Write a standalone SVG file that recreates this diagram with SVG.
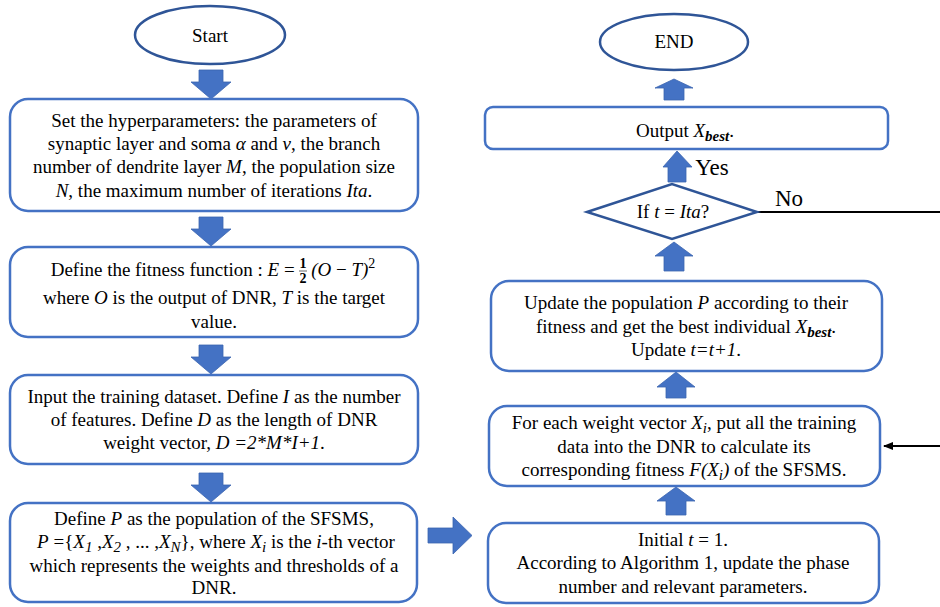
<svg xmlns="http://www.w3.org/2000/svg" width="940" height="607" viewBox="0 0 940 607">
<style>
.box{fill:#fff;stroke:#4472C4;stroke-width:2.5}
.term{fill:#fff;stroke:#2F5597;stroke-width:2.5}
.blk{fill:#4472C4;stroke:#3B65B0;stroke-width:0.8}
.line{fill:none;stroke:#000;stroke-width:2}
text{font-family:"Liberation Serif","Times New Roman",serif;font-size:19px;fill:#000;text-anchor:middle}
.i{font-style:italic}
.sb{font-style:italic;font-weight:bold;font-size:15px}
.s{font-style:italic;font-size:15px}
.lbl{font-size:23px}
</style>
<defs>
<marker id="ah" markerWidth="10" markerHeight="8" refX="9" refY="4" orient="auto" markerUnits="userSpaceOnUse">
<path d="M0,0 L10,4 L0,8 Z" fill="#000"/>
</marker>
</defs>

<g id="connectors">
<path class="blk" d="M199,70 H223 V82 H231 L211,99 L191,82 H199 Z"/>
<path class="blk" d="M199,217 H223 V229 H231 L211,246 L191,229 H199 Z"/>
<path class="blk" d="M199,345 H223 V357 H231 L211,374 L191,357 H199 Z"/>
<path class="blk" d="M199,473 H223 V485 H231 L211,502 L191,485 H199 Z"/>
<path class="blk" d="M428,528 H453 V517 L472,535.5 L453,554 V543 H428 Z"/>
<path class="blk" d="M664,100 V88 H655 L674,79 L693,88 H684 V100 Z"/>
<path class="blk" d="M668,182 V167 H663 L677,151 L692,167 H686 V182 Z"/>
<path class="blk" d="M664,271 V256 H655 L674,242 L693,256 H684 V271 Z"/>
<path class="blk" d="M666,398 V387 H657 L676,372 L695,387 H686 V398 Z"/>
<path class="blk" d="M666,515 V501 H657 L676,487 L695,501 H686 V515 Z"/>
<path class="line" d="M757,212 H950 V446 H884" marker-end="url(#ah)"/>
<text class="lbl" x="712" y="175">Yes</text>
<text class="lbl" x="789" y="206">No</text>
</g>

<g id="start">
<ellipse class="term" cx="210" cy="35" rx="75" ry="29"/>
<text x="210" y="42">Start</text>
</g>

<g id="hyper">
<rect class="box" x="10" y="99" width="408" height="112" rx="18"/>
<text x="214" y="127">Set the hyperparameters: the parameters of</text>
<text x="214" y="150">synaptic layer and soma <tspan class="i">α</tspan> and <tspan class="i">v</tspan>, the branch</text>
<text x="214" y="173">number of dendrite layer <tspan class="i">M</tspan>, the population size</text>
<text x="214" y="197"><tspan class="i">N</tspan>, the maximum number of iterations <tspan class="i">Ita</tspan>.</text>
</g>

<g id="fitness">
<rect class="box" x="10" y="247" width="408" height="90" rx="18"/>
<text x="213" y="276">Define the fitness function : <tspan class="i">E</tspan> = <tspan font-size="14" font-weight="bold" dy="-8">1</tspan><tspan font-size="14" font-weight="bold" dx="-7" dy="15">2</tspan><tspan dy="-7" class="i"> (O</tspan> − <tspan class="i">T)</tspan><tspan font-size="14" dy="-8">2</tspan></text>
<line x1="299" y1="271" x2="307" y2="271" stroke="#000" stroke-width="0.6"/>
<text x="214" y="304">where <tspan class="i">O</tspan> is the output of DNR, <tspan class="i">T</tspan> is the target</text>
<text x="214" y="328">value.</text>
</g>

<g id="input">
<rect class="box" x="10" y="375" width="408" height="89" rx="18"/>
<text x="214" y="403">Input the training dataset. Define <tspan class="i">I</tspan> as the number</text>
<text x="214" y="426">of features. Define <tspan class="i">D</tspan> as the length of DNR</text>
<text x="214" y="449">weight vector, <tspan class="i">D =2*M*I+1</tspan>.</text>
</g>

<g id="population">
<rect class="box" x="10" y="503" width="407" height="99" rx="18"/>
<text x="214" y="525">Define <tspan class="i">P</tspan> as the population of the SFSMS,</text>
<text x="216" y="548"><tspan class="i">P</tspan> ={<tspan class="i">X</tspan><tspan class="s" dy="4">1</tspan><tspan dy="-4"> ,</tspan><tspan class="i">X</tspan><tspan class="s" dy="4">2</tspan><tspan dy="-4"> , ... ,</tspan><tspan class="i">X</tspan><tspan class="s" dy="4">N</tspan><tspan dy="-4">}, where </tspan><tspan class="i">X</tspan><tspan class="s" dy="4">i</tspan><tspan dy="-4"> is the </tspan><tspan class="i">i</tspan>-th vector</text>
<text x="214" y="572">which represents the weights and thresholds of a</text>
<text x="214" y="594">DNR.</text>
</g>

<g id="end">
<ellipse class="term" cx="674" cy="42" rx="74" ry="28"/>
<text x="674" y="48">END</text>
</g>

<g id="output">
<rect class="box" x="485" y="107" width="403" height="42" rx="8"/>
<text x="685" y="137">Output <tspan class="i">X</tspan><tspan class="sb" dy="4">best</tspan><tspan dy="-4">.</tspan></text>
</g>

<g id="decision">
<polygon class="term" points="587,212 672,184 757,212 672,239"/>
<text x="673" y="218" font-size="18">If <tspan class="i">t</tspan> = <tspan class="i">Ita</tspan>?</text>
</g>

<g id="update">
<rect class="box" x="491" y="281" width="391" height="90" rx="18"/>
<text x="686" y="309">Update the population <tspan class="i">P</tspan> according to their</text>
<text x="686" y="333">fitness and get the best individual <tspan class="i">X</tspan><tspan class="sb" dy="4">best</tspan><tspan dy="-4">.</tspan></text>
<text x="686" y="356">Update <tspan class="i">t=t+1</tspan>.</text>
</g>

<g id="evaluate">
<rect class="box" x="489" y="406" width="391" height="80" rx="18"/>
<text x="684" y="429">For each weight vector <tspan class="i">X</tspan><tspan class="s" dy="4">i</tspan><tspan dy="-4">, put all the training</tspan></text>
<text x="684" y="453">data into the DNR to calculate its</text>
<text x="684" y="476">corresponding fitness <tspan class="i">F(X</tspan><tspan class="s" dy="4">i</tspan><tspan class="i" dy="-4">)</tspan> of the SFSMS.</text>
</g>

<g id="initial">
<rect class="box" x="488" y="523" width="391" height="80" rx="18"/>
<text x="683" y="546">Initial <tspan class="i">t</tspan> = 1.</text>
<text x="683" y="569">According to Algorithm 1, update the phase</text>
<text x="683" y="593">number and relevant parameters.</text>
</g>
</svg>
